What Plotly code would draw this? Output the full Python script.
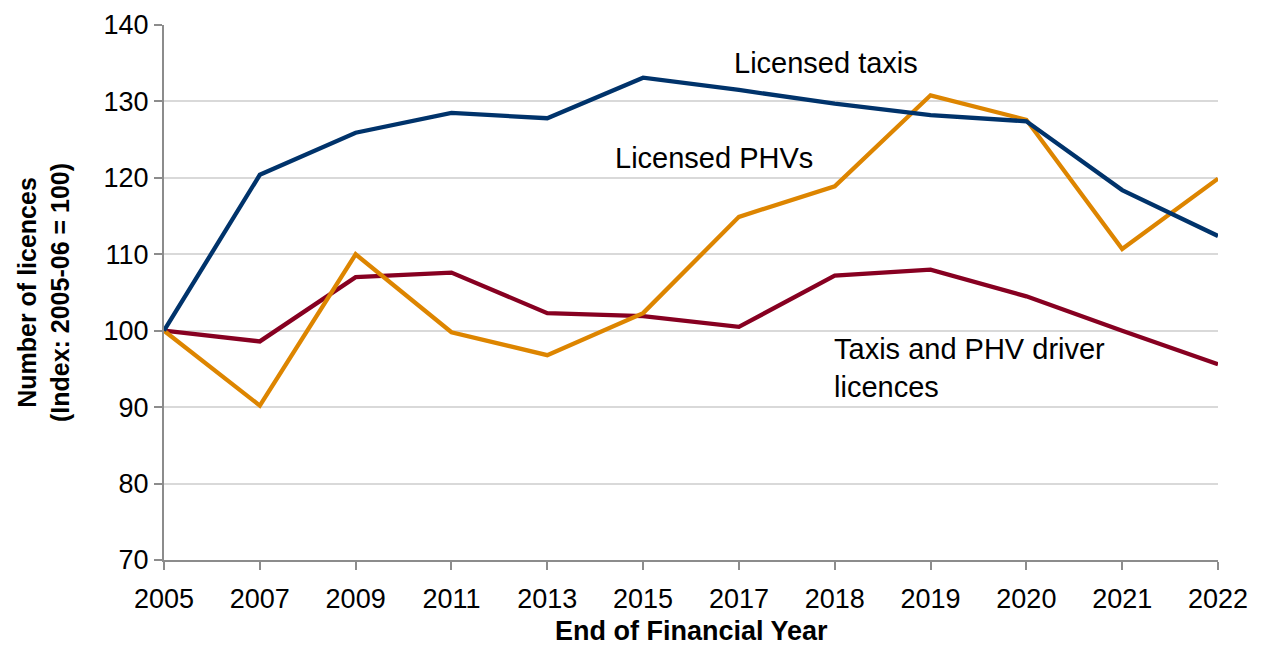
import plotly.graph_objects as go

years = ["2005", "2007", "2009", "2011", "2013", "2015", "2017", "2018", "2019", "2020", "2021", "2022"]
licensed_taxis = [100, 120.4, 125.9, 128.5, 127.8, 133.1, 131.5, 129.7, 128.2, 127.4, 118.4, 112.4]
licensed_phvs = [100, 90.2, 110.0, 99.8, 96.8, 102.3, 114.9, 118.9, 130.8, 127.6, 110.7, 119.9]
driver_licences = [100, 98.6, 107.0, 107.6, 102.3, 101.9, 100.5, 107.2, 108.0, 104.5, 100.0, 95.6]

FONT = "Liberation Sans, Arial, sans-serif"

fig = go.Figure()
fig.add_trace(go.Scatter(x=years, y=driver_licences, mode="lines",
                         line=dict(color="#870021", width=4.3), name="Taxis and PHV driver licences"))
fig.add_trace(go.Scatter(x=years, y=licensed_phvs, mode="lines",
                         line=dict(color="#dd8500", width=4.3), name="Licensed PHVs"))
fig.add_trace(go.Scatter(x=years, y=licensed_taxis, mode="lines",
                         line=dict(color="#00336b", width=4.3), name="Licensed taxis"))

ann_font = dict(family=FONT, size=29, color="#000000")
fig.add_annotation(x=6.91, y=135.0, xref="x", yref="y", text="Licensed taxis", showarrow=False,
                   xanchor="center", yanchor="middle", font=ann_font)
fig.add_annotation(x=5.74, y=122.6, xref="x", yref="y", text="Licensed PHVs", showarrow=False,
                   xanchor="center", yanchor="middle", font=ann_font)
fig.add_annotation(x=6.97, y=95.1, xref="x", yref="y", text="Taxis and PHV driver<br>licences",
                   showarrow=False, xanchor="left", yanchor="middle", align="left", font=ann_font)

# x-axis title placed as an annotation so it can sit lower than the margin allows
fig.add_annotation(x=0.5, y=0, xref="paper", yref="paper", text="<b>End of Financial Year</b>",
                   showarrow=False, xanchor="center", yanchor="middle", yshift=-71,
                   font=dict(family=FONT, size=27, color="#000000"))

fig.update_layout(
    width=1247, height=638,
    margin=dict(l=156, r=37, t=17, b=86),
    paper_bgcolor="white", plot_bgcolor="white",
    showlegend=False,
    font=dict(family=FONT, size=27, color="#000000"),
    xaxis=dict(
        type="category", categoryorder="array", categoryarray=years,
        range=[0, 11], showgrid=False, zeroline=False, automargin=False,
        showline=True, linecolor="#8c8c8c", linewidth=2,
        ticks="outside", ticklen=8, tickcolor="#8c8c8c", tickwidth=2,
        ticklabelstandoff=6,
        tickfont=dict(family=FONT, size=27),
    ),
    yaxis=dict(
        range=[70, 140], dtick=10, tick0=70, automargin=False,
        showgrid=True, gridcolor="#d9d9d9", gridwidth=2, zeroline=False,
        showline=True, linecolor="#8c8c8c", linewidth=2,
        ticks="outside", ticklen=8, tickcolor="#8c8c8c", tickwidth=2,
        tickfont=dict(family=FONT, size=27),
        title=dict(text="<b>Number of licences<br>(Index: 2005-06 = 100)</b>",
                   font=dict(family=FONT, size=25), standoff=27),
    ),
)

fig.write_html("out.html")
